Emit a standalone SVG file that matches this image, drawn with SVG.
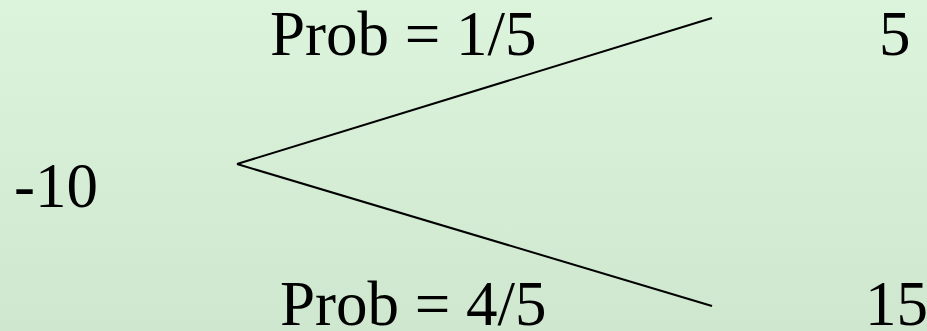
<svg xmlns="http://www.w3.org/2000/svg" width="927" height="331" viewBox="0 0 927 331">
<defs>
<linearGradient id="bg" x1="0" y1="0" x2="0" y2="1">
<stop offset="0" stop-color="#dcf4dc"/>
<stop offset="1" stop-color="#cfe6cf"/>
</linearGradient>
<style>
text{font-family:"Liberation Serif","Times New Roman",serif;font-size:63px;fill:#000}
.edge{stroke:#000;stroke-width:2;fill:none}
</style>
</defs>
<rect width="927" height="331" fill="url(#bg)"/>
<g id="connectors">
<line class="edge" x1="237" y1="164" x2="712" y2="18"/>
<line class="edge" x1="237" y1="164" x2="712" y2="306"/>
</g>
<g id="root"><text x="14" y="207">-10</text></g>
<g id="top-label"><text x="270" y="55">Prob = 1/5</text></g>
<g id="bottom-label"><text x="280" y="325">Prob = 4/5</text></g>
<g id="top-outcome"><text x="879" y="55">5</text></g>
<g id="bottom-outcome"><text x="865" y="325">15</text></g>
</svg>
